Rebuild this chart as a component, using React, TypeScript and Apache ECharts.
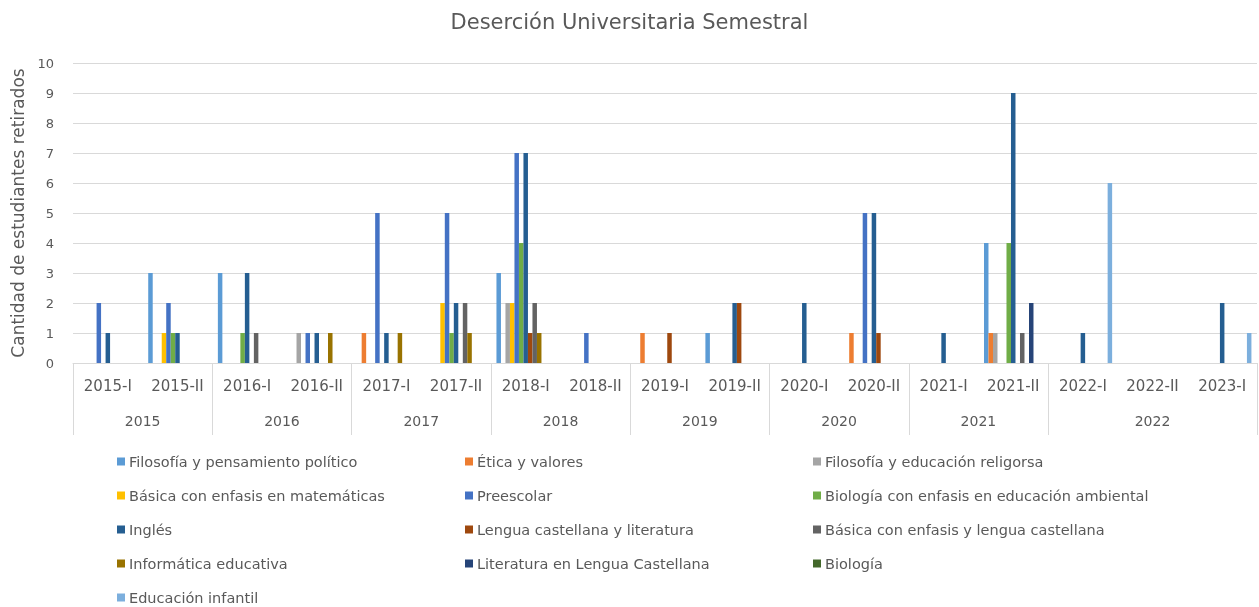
import React, { useEffect, useRef } from "react";
import * as echarts from "echarts";

const semesters = [
  "2015-I", "2015-II", "2016-I", "2016-II", "2017-I", "2017-II", "2018-I", "2018-II",
  "2019-I", "2019-II", "2020-I", "2020-II", "2021-I", "2021-II", "2022-I", "2022-II", "2023-I",
];
const years = ["2015", "2016", "2017", "2018", "2019", "2020", "2021", "2022"];
// group boundaries (in category units) and centers for year labels
const yearBounds = [0, 2, 4, 6, 8, 10, 12, 14, 17];
const yearCenters = [1, 3, 5, 7, 9, 11, 13, 15.5];

const seriesNames = [
  "Filosofía y pensamiento político",
  "Ética y valores",
  "Filosofía y educación religorsa",
  "Básica con enfasis en matemáticas",
  "Preescolar",
  "Biología con enfasis en educación ambiental",
  "Inglés",
  "Lengua castellana y literatura",
  "Básica con enfasis y lengua castellana",
  "Informática educativa",
  "Literatura en Lengua Castellana",
  "Biología",
  "Educación infantil",
];
const colors = [
  "#5B9BD5", "#ED7D31", "#A5A5A5", "#FFC000", "#4472C4", "#70AD47",
  "#255E91", "#9E480E", "#636363", "#997300", "#264478", "#43682B", "#7CAFDD",
];

//                          15I 15II 16I 16II 17I 17II 18I 18II 19I 19II 20I 20II 21I 21II 22I 22II 23I
const filosofiaPolitico   = [0, 3, 3, 0, 0, 0, 3, 0, 0, 1, 0, 0, 0, 4, 0, 0, 0];
const eticaValores        = [0, 0, 0, 0, 1, 0, 0, 0, 1, 0, 0, 1, 0, 1, 0, 0, 0];
const filosofiaReligiosa  = [0, 0, 0, 1, 0, 0, 2, 0, 0, 0, 0, 0, 0, 1, 0, 0, 0];
const basicaMatematicas   = [0, 1, 0, 0, 0, 2, 2, 0, 0, 0, 0, 0, 0, 0, 0, 0, 0];
const preescolar          = [2, 2, 0, 1, 5, 5, 7, 1, 0, 0, 0, 5, 0, 0, 0, 0, 0];
const biologiaAmbiental   = [0, 1, 1, 0, 0, 1, 4, 0, 0, 0, 0, 0, 0, 4, 0, 0, 0];
const ingles              = [1, 1, 3, 1, 1, 2, 7, 0, 0, 2, 2, 5, 1, 9, 1, 0, 2];
const lenguaLiteratura    = [0, 0, 0, 0, 0, 0, 1, 0, 1, 2, 0, 1, 0, 0, 0, 0, 0];
const basicaLengua        = [0, 0, 1, 0, 0, 2, 2, 0, 0, 0, 0, 0, 0, 1, 0, 0, 0];
const informatica         = [0, 0, 0, 1, 1, 1, 1, 0, 0, 0, 0, 0, 0, 0, 0, 0, 0];
const literaturaLengua    = [0, 0, 0, 0, 0, 0, 0, 0, 0, 0, 0, 0, 0, 2, 0, 0, 0];
const biologia            = [0, 0, 0, 0, 0, 0, 0, 0, 0, 0, 0, 0, 0, 0, 0, 0, 0];
const educacionInfantil   = [0, 0, 0, 0, 0, 0, 0, 0, 0, 0, 0, 0, 0, 0, 6, 0, 1];

const seriesValues = [
  filosofiaPolitico, eticaValores, filosofiaReligiosa, basicaMatematicas, preescolar,
  biologiaAmbiental, ingles, lenguaLiteratura, basicaLengua, informatica,
  literaturaLengua, biologia, educacionInfantil,
];

const legendColumns = [
  [0, 3, 6, 9, 12],
  [1, 4, 7, 10],
  [2, 5, 8, 11],
];
const legendLefts = [117, 465, 813];

const FONT = "'DejaVu Sans', 'Noto Sans', sans-serif";
const TEXT = "#595959";

export default function App() {
  const ref = useRef<HTMLDivElement>(null);
  useEffect(() => {
    if (!ref.current) return;
    const chart = echarts.init(ref.current, null, { renderer: "svg" });
    chart.setOption({
      animation: false,
      color: colors,
      textStyle: { fontFamily: FONT },
      title: {
        text: "Deserción Universitaria Semestral",
        left: "center",
        top: 6,
        textStyle: { fontFamily: FONT, fontSize: 21, fontWeight: "normal", color: TEXT },
      },
      legend: legendColumns.map((col, i) => ({
        orient: "vertical",
        left: legendLefts[i],
        top: 454,
        height: 170,
        padding: 0,
        itemWidth: 8,
        itemHeight: 8,
        itemGap: 19,
        icon: "rect",
        data: col.map((k) => seriesNames[k]),
        textStyle: { fontFamily: FONT, fontSize: 14.5, color: TEXT, lineHeight: 15, padding: [0, 0, 0, -1] },
      })),
      grid: { left: 73, right: 2, top: 63, bottom: 244, containLabel: false },
      xAxis: [
        {
          type: "category",
          data: semesters,
          position: "bottom",
          axisLine: { show: true, lineStyle: { color: "#D9D9D9" } },
          axisTick: { show: false },
          axisLabel: { margin: 15, fontFamily: FONT, fontSize: 15, color: TEXT, interval: 0 },
          splitLine: { show: false },
        },
        {
          type: "value",
          min: 0,
          max: semesters.length,
          position: "bottom",
          axisLine: { show: false },
          axisTick: {
            show: true,
            customValues: yearBounds,
            length: 72,
            lineStyle: { color: "#D9D9D9" },
          },
          axisLabel: {
            customValues: yearCenters,
            margin: 51,
            fontFamily: FONT,
            fontSize: 14,
            color: TEXT,
            formatter: (v: number) => {
              const idx = yearCenters.indexOf(v);
              return idx >= 0 ? years[idx] : "";
            },
          },
          splitLine: { show: false },
        },
      ],
      yAxis: {
        type: "value",
        min: 0,
        max: 10,
        interval: 1,
        name: "Cantidad de estudiantes retirados",
        nameLocation: "middle",
        nameGap: 44,
        nameTextStyle: { fontFamily: FONT, fontSize: 17, color: TEXT },
        axisLine: { show: false },
        axisTick: { show: false },
        axisLabel: { fontFamily: FONT, fontSize: 13, color: TEXT, margin: 19 },
        splitLine: { lineStyle: { color: "#D9D9D9" } },
      },
      series: seriesNames.map((name, i) => ({
        name,
        type: "bar",
        xAxisIndex: 0,
        data: seriesValues[i],
        barGap: "0%",
        barCategoryGap: "16%",
        itemStyle: { color: colors[i] },
      })),
    });
    return () => chart.dispose();
  }, []);
  return (
    <div
      ref={ref}
      style={{ position: "fixed", left: 0, top: 0, width: 1259, height: 607 }}
    />
  );
}
